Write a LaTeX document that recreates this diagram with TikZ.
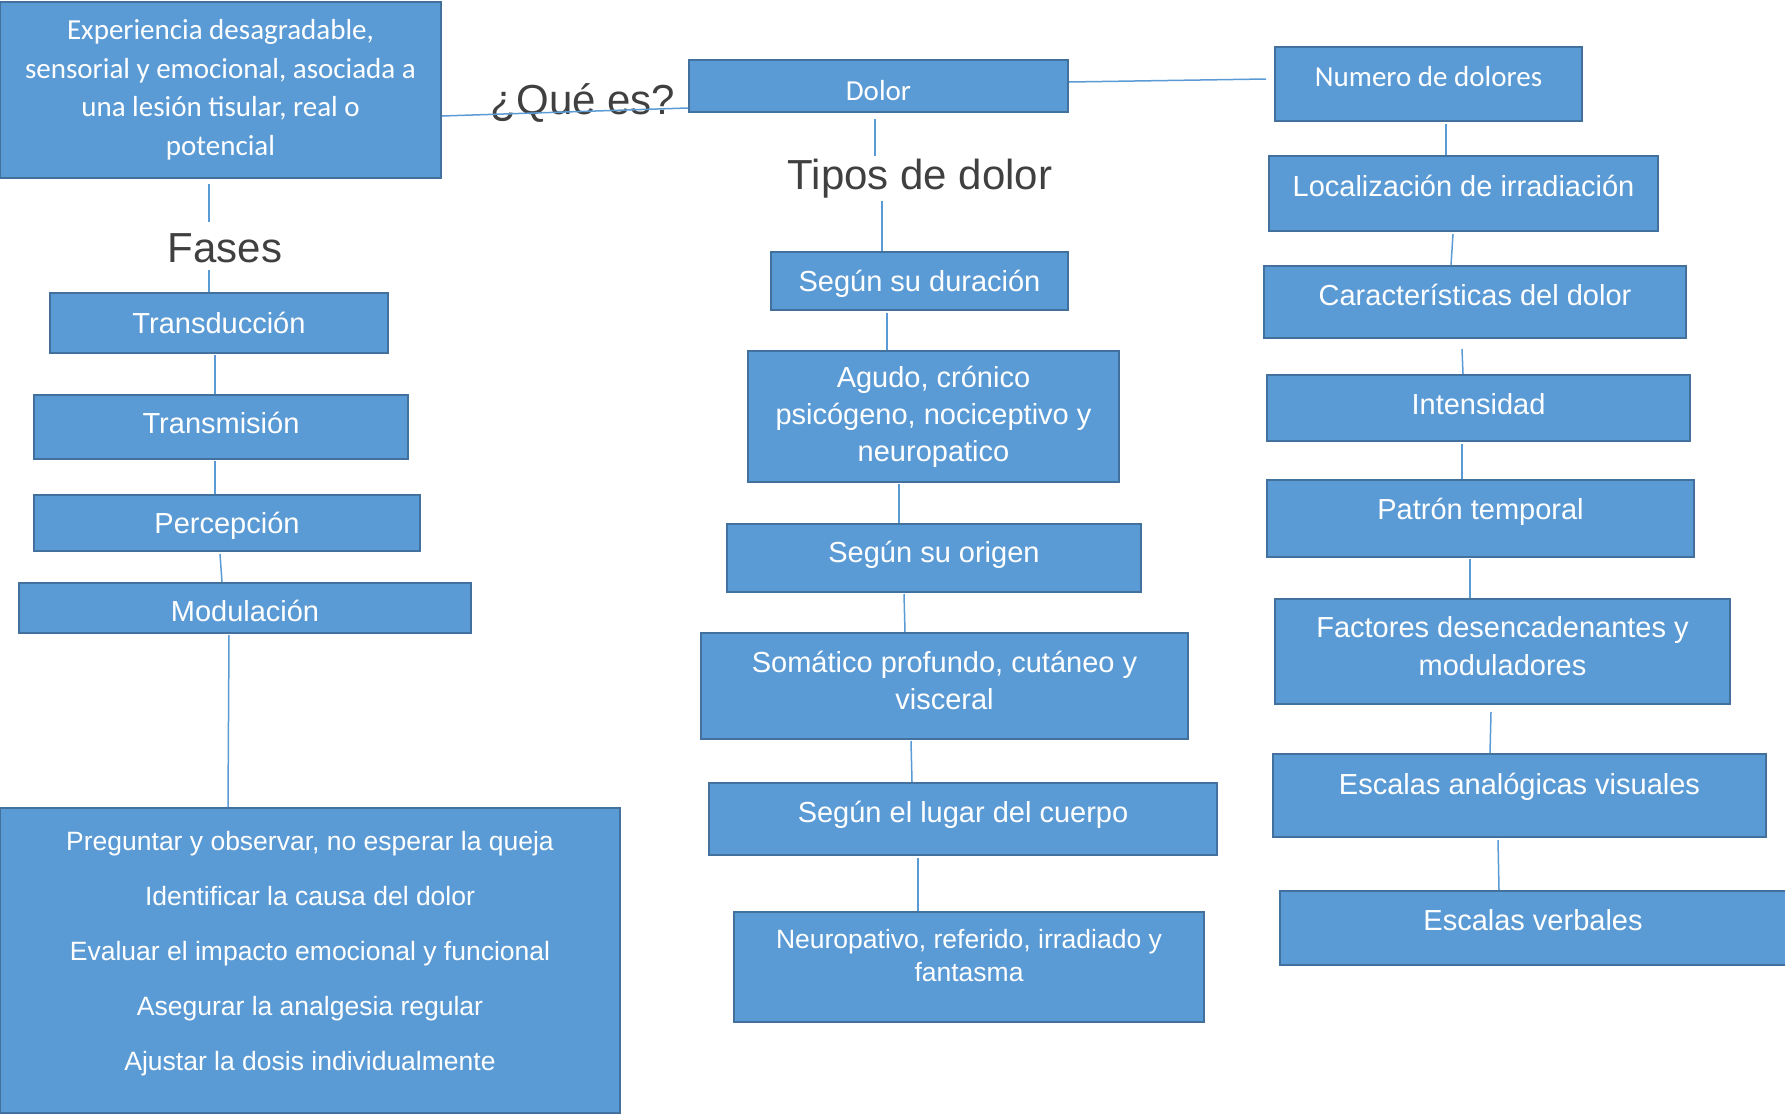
\documentclass[tikz,border=0pt]{standalone}
\usepackage{fontspec}
\setmainfont{Liberation Sans}
\newfontfamily\calibri{Carlito}
\usepackage{tikz}
\definecolor{relleno}{HTML}{5B9BD5}
\definecolor{borde}{HTML}{41719C}
\definecolor{gris}{HTML}{404040}

\begin{document}
\begin{tikzpicture}
        [x=1pt, y=-1pt,
         caja/.style={rectangle, draw=borde, fill=relleno, line width=2pt, text=white, align=center, inner sep=0pt, font=\fontsize{29}{37}\selectfont},
         tam/.style 2 args={minimum width=#1pt, minimum height=#2pt},
         sube/.style={text depth=#1pt},
         baja/.style={text height=#1pt},
         chica/.style={font=\fontsize{26.5}{33}\selectfont},
         titulo/.style={text=gris, inner sep=0pt, minimum height=48pt, font=\fontsize{42}{50}\selectfont},
         linea/.style={draw=relleno, line width=1.5pt}]
        \useasboundingbox (0,0) rectangle (1785,1116);

        % que es y fases
        \node[caja, tam={441}{176}, font=\calibri\fontsize{29}{38.5}\selectfont] (exp) at (220.5,90) {Experiencia desagradable,\\ sensorial y emocional, asociada a\\ una lesión tisular, real o\\ potencial};
        \node[titulo] (quees) at (583,103) {¿Qué es?};
        \node[titulo] (fases) at (225,248) {Fases};
        \node[caja, tam={338}{60}] (trans) at (219,323) {Transducción};
        \node[caja, tam={374}{64}, sube=8] (transm) at (221,427) {Transmisión};
        \node[caja, tam={386}{56}, baja=28] (perc) at (227,523) {Percepción};
        \node[caja, tam={452}{50}, baja=28] (modul) at (245,608) {Modulación};
        \node[caja, chica, tam={620}{305}, sube=20, font=\fontsize{26.5}{55}\selectfont] (acciones) at (310,960.5) {Preguntar y observar, no esperar la queja\\ Identificar la causa del dolor\\ Evaluar el impacto emocional y funcional\\ Asegurar la analgesia regular\\ Ajustar la dosis individualmente};

        % tipos de dolor
        \node[caja, tam={379}{52}, baja=29, font=\calibri\fontsize{29}{37}\selectfont] (dolor) at (878.5,86) {Dolor};
        \node[titulo] (tipos) at (920,179) {Tipos de dolor};
        \node[caja, tam={297}{58}, baja=28] (duracion) at (919.5,281) {Según su duración};
        \node[caja, tam={371}{131}] (agudo) at (933.5,416.5) {Agudo, crónico\\ psicógeno, nociceptivo y\\ neuropatico};
        \node[caja, tam={414}{68}, sube=12] (origen) at (934,558) {Según su origen};
        \node[caja, tam={487}{106}, sube=12] (somatico) at (944.5,686) {Somático profundo, cutáneo y\\ visceral};
        \node[caja, tam={508}{72}, sube=15] (lugar) at (963,819) {Según el lugar del cuerpo};
        \node[caja, chica, tam={470}{110}, sube=24] (neuro) at (969,967) {Neuropativo, referido, irradiado y\\ fantasma};

        % evaluacion
        \node[caja, tam={307}{74}, sube=16, font=\calibri\fontsize{29}{37}\selectfont] (numero) at (1428.5,84) {Numero de dolores};
        \node[caja, tam={389}{75}, sube=15] (loc) at (1463.5,193.5) {Localización de irradiación};
        \node[caja, tam={422}{72}, sube=14] (carac) at (1475,302) {Características del dolor};
        \node[caja, tam={423}{66}, sube=8] (inten) at (1478.5,408) {Intensidad};
        \node[caja, tam={427}{77}, sube=19] (patron) at (1480.5,518.5) {Patrón temporal};
        \node[caja, tam={455}{105}, sube=11, font=\fontsize{29}{38}\selectfont] (factores) at (1502.5,651.5) {Factores desencadenantes y\\ moduladores};
        \node[caja, tam={493}{83}, sube=23] (escan) at (1519.5,795.5) {Escalas analógicas visuales};
        \node[caja, tam={506}{74}, sube=16] (escver) at (1533,928) {Escalas verbales};

        % lineas
        \draw[linea] ([shift={(0,26)}]exp.east) -- ([shift={(0,22)}]dolor.west);
        \draw[linea] ([shift={(-11.5,5)}]exp.south) -- ([shift={(-16,-2)}]fases.north);
        \draw[linea] ([shift={(-16,-2)}]fases.south) -- ([shift={(-10,0)}]trans.north);
        \draw[linea] ([shift={(-4,1)}]trans.south) -- ([shift={(-6,0)}]transm.north);
        \draw[linea] ([shift={(-6,1)}]transm.south) -- ([shift={(-12,0)}]perc.north);
        \draw[linea] ([shift={(-7,2)}]perc.south) -- ([shift={(-23,0)}]modul.north);
        \draw[linea] ([shift={(-16,1)}]modul.south) -- ([shift={(-82,0)}]acciones.north);

        \draw[linea] ([shift={(0,-4)}]dolor.east) -- ([shift={(-8,-5)}]numero.west);
        \draw[linea] ([shift={(-3.5,6)}]dolor.south) -- ([shift={(-45,1)}]tipos.north);
        \draw[linea] ([shift={(-38,-2)}]tipos.south) -- ([shift={(-37.5,0)}]duracion.north);
        \draw[linea] ([shift={(-32.5,2)}]duracion.south) -- ([shift={(-46.5,0)}]agudo.north);
        \draw[linea] ([shift={(-34.5,1)}]agudo.south) -- ([shift={(-35,0)}]origen.north);
        \draw[linea] ([shift={(-30,1)}]origen.south) -- ([shift={(-39.5,0)}]somatico.north);
        \draw[linea] ([shift={(-33.5,1)}]somatico.south) -- ([shift={(-51,0)}]lugar.north);
        \draw[linea] ([shift={(-45,2)}]lugar.south) -- ([shift={(-51,0)}]neuro.north);

        \draw[linea] ([shift={(17.5,2)}]numero.south) -- ([shift={(-17.5,0)}]loc.north);
        \draw[linea] ([shift={(-10.5,2)}]loc.south) -- ([shift={(-24,0)}]carac.north);
        \draw[linea] ([shift={(-13,10)}]carac.south) -- ([shift={(-15.5,0)}]inten.north);
        \draw[linea] ([shift={(-16.5,2)}]inten.south) -- ([shift={(-18.5,0)}]patron.north);
        \draw[linea] ([shift={(-10.5,1)}]patron.south) -- ([shift={(-32.5,0)}]factores.north);
        \draw[linea] ([shift={(-11.5,7)}]factores.south) -- ([shift={(-29.5,0)}]escan.north);
        \draw[linea] ([shift={(-21.5,2)}]escan.south) -- ([shift={(-34,0)}]escver.north);
    \end{tikzpicture}
\end{document}
